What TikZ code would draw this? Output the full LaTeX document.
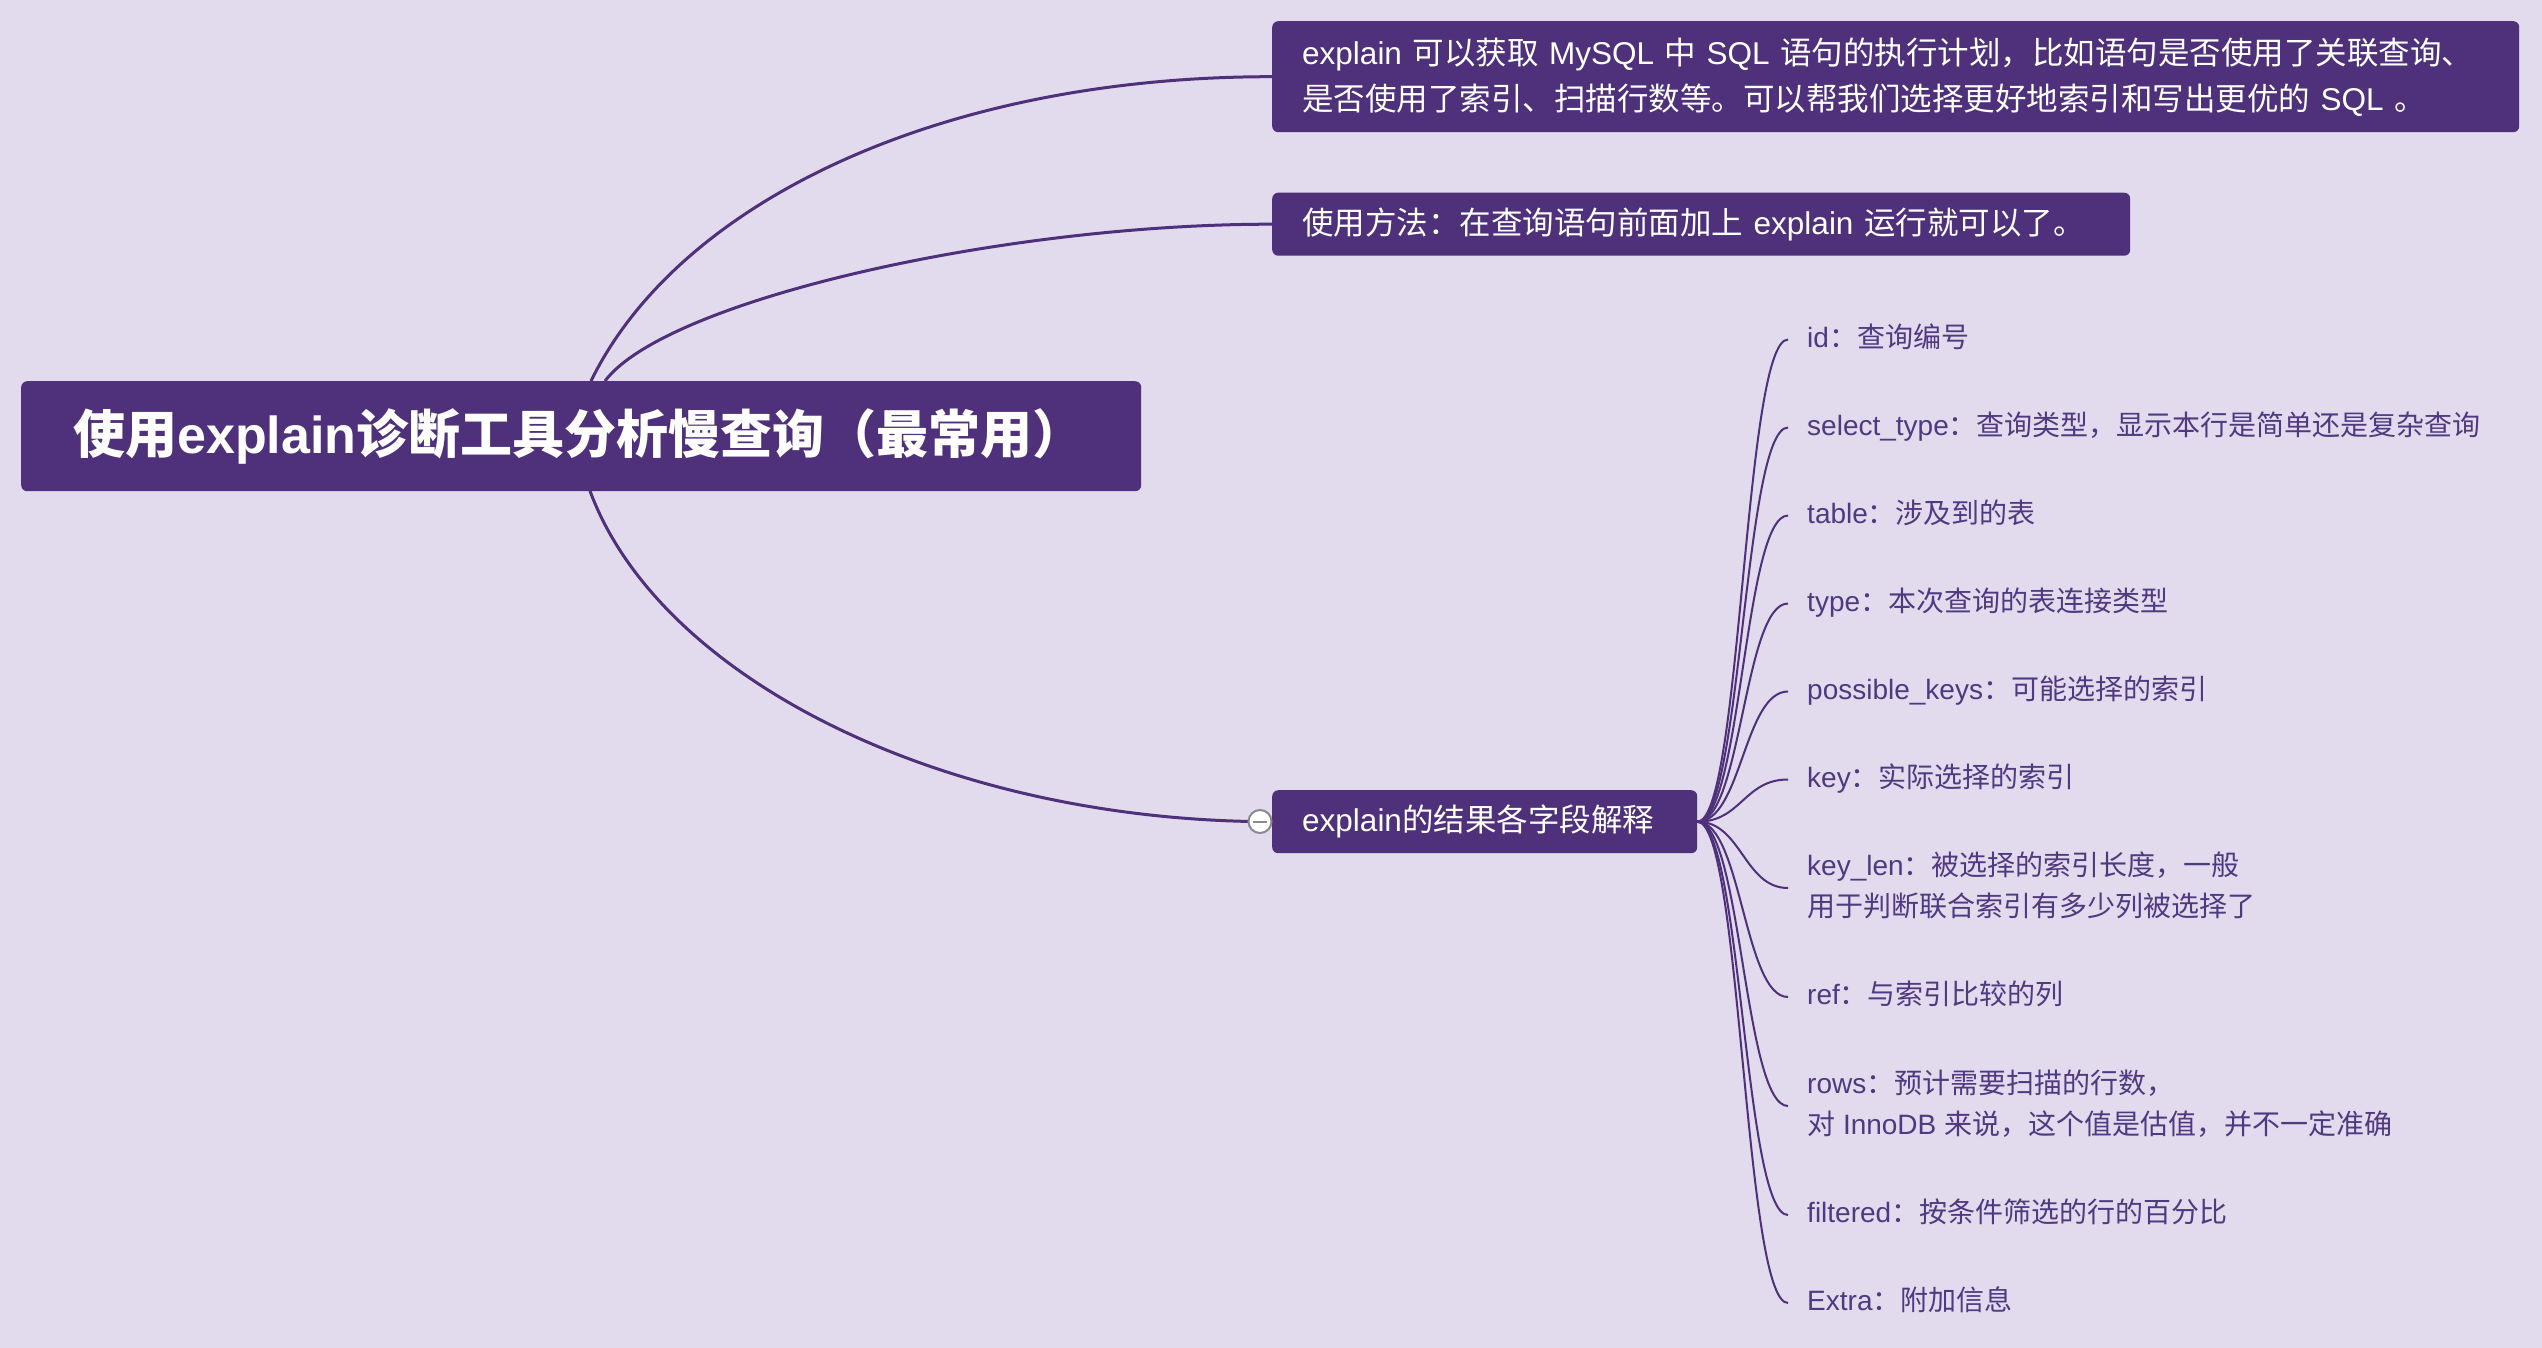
\documentclass[tikz,border=0pt]{standalone}
\usepackage{fontspec}
\setmainfont{Noto Sans CJK SC}
\newfontfamily\latf{Liberation Sans}
\newcommand\LA[1]{{\latf #1}}
\definecolor{bg}{HTML}{E2DAED}
\definecolor{pp}{HTML}{4E317A}
\definecolor{lt}{HTML}{4E3A80}
\definecolor{cg}{HTML}{8A8A8A}
\begin{document}
\begin{tikzpicture}[x=1pt,y=-1pt,
  box/.style={fill=pp, rounded corners=6pt, text=white, align=left, anchor=north west, inner ysep=0pt},
  leaf/.style={text=lt, anchor=west, inner xsep=19pt, inner ysep=2pt, align=left, text height=24pt, text depth=8.8pt, font=\fontsize{28}{41}\selectfont},
  twoline/.style={text height=65pt},
  main/.style={draw=pp, line width=3pt},
  twig/.style={draw=pp, line width=2pt}]
\useasboundingbox (0,0) rectangle (2542,1348);
\fill[bg] (0,0) rectangle (2542,1348);

% boxes
\node[box, inner xsep=52pt, text width=1016pt, minimum height=110pt, font=\fontsize{52}{60}\selectfont\bfseries] (root) at (21,381) {使用\LA{explain}诊断工具分析慢查询（最常用）};
\node[box, inner xsep=30pt, text width=1187pt, minimum height=111pt, font=\fontsize{31.5}{46}\selectfont] (b1) at (1272,21) {\LA{explain }可以获取\LA{ MySQL }中\LA{ SQL }语句的执行计划，比如语句是否使用了关联查询、\\是否使用了索引、扫描行数等。可以帮我们选择更好地索引和写出更优的\LA{ SQL }。};
\node[box, inner xsep=30pt, text width=798pt, minimum height=63pt, font=\fontsize{31.5}{46}\selectfont] (b2) at (1272,192.5) {使用方法：在查询语句前面加上\LA{ explain }运行就可以了。};
\node[box, inner xsep=30pt, text width=365pt, minimum height=63pt, font=\fontsize{31.5}{46}\selectfont] (b3) at (1272,790) {\LA{explain}的结果各字段解释};

% main connectors
\coordinate (r1) at (591,381);
\coordinate (r2) at (605,381);
\coordinate (r3) at (590,491);
\draw[main] (r1) .. controls (679,201) and (942,76.5) .. (b1.west);
\draw[main] (r2) .. controls (665,301) and (1000,224) .. (b2.west);
\draw[main] (r3) .. controls (660,680) and (946,821.5) .. (b3.west);

% collapse button
\node[circle, draw=cg, fill=white, line width=2pt, minimum size=23pt, inner sep=0pt] (col) at (1260,821.5) {};
\draw[cg, line width=2pt] (col.center) ++(-7,0) -- ++(14,0);

% leaves
\node[leaf] (l1) at (1788,339.5) {\LA{id}：查询编号};
\node[leaf] (l2) at (1788,427.5) {\LA{select\_type}：查询类型，显示本行是简单还是复杂查询};
\node[leaf] (l3) at (1788,515.5) {\LA{table}：涉及到的表};
\node[leaf] (l4) at (1788,603.5) {\LA{type}：本次查询的表连接类型};
\node[leaf] (l5) at (1788,691.5) {\LA{possible\_keys}：可能选择的索引};
\node[leaf] (l6) at (1788,779.5) {\LA{key}：实际选择的索引};
\node[leaf, twoline] (l7) at (1788,888) {\LA{key\_len}：被选择的索引长度，一般\\用于判断联合索引有多少列被选择了};
\node[leaf] (l8) at (1788,997) {\LA{ref}：与索引比较的列};
\node[leaf, twoline] (l9) at (1788,1106) {\LA{rows}：预计需要扫描的行数，\\对\LA{ InnoDB }来说，这个值是估值，并不一定准确};
\node[leaf] (l10) at (1788,1215) {\LA{filtered}：按条件筛选的行的百分比};
\node[leaf] (l11) at (1788,1303) {\LA{Extra}：附加信息};

\foreach \i in {1,...,11}
  \draw[twig] (b3.east) .. controls +(44,0) and +(-44,0) .. (l\i.west);
\end{tikzpicture}
\end{document}
